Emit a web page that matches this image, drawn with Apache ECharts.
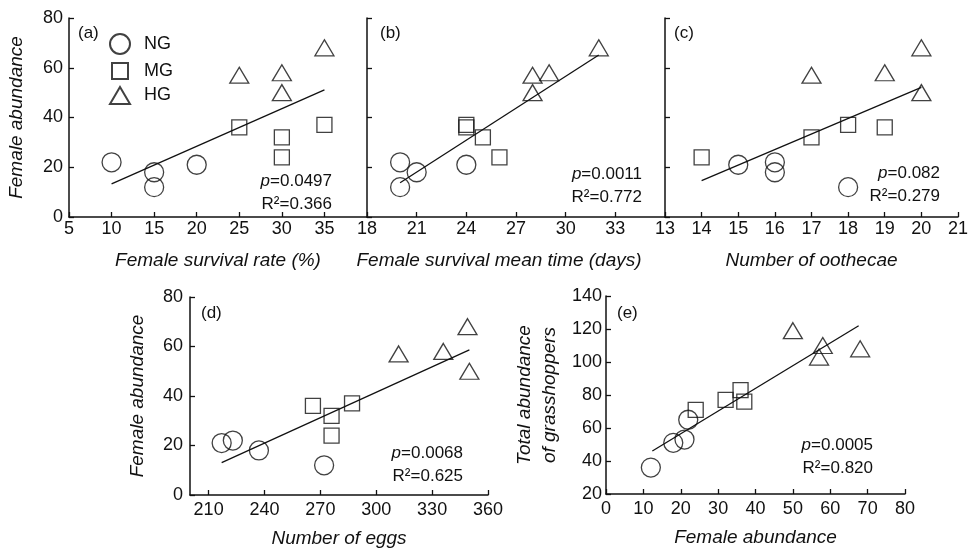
<!DOCTYPE html>
<html>
<head>
<meta charset="utf-8">
<script src="https://cdn.jsdelivr.net/npm/echarts@6/dist/echarts.min.js"></script>
<style>
  html, body { margin: 0; padding: 0; background: #fff; }
  #chart { width: 971px; height: 551px; }
</style>
</head>
<body>
<div id="chart"></div>
<script>
// (a) female survival rate (%) vs female abundance
const rateNG = [[10, 22], [15, 18], [15, 12], [20, 21]]
const rateMG = [[25, 36], [30, 32], [30, 24], [35, 37]]
const rateHG = [[25, 57], [30, 58], [30, 50], [35, 68]]
const rateFit = [[10, 13.3], [35, 51.1]]

// (b) female survival mean time (days)
const timeNG = [[20, 22], [21, 18], [20, 12], [24, 21]]
const timeMG = [[24, 36], [24, 37], [25, 32], [26, 24]]
const timeHG = [[28, 57], [29, 58], [28, 50], [32, 68]]
const timeFit = [[20, 13.8], [32, 65.1]]

// (c) number of oothecae
const oothNG = [[15, 21], [16, 22], [16, 18], [18, 12]]
const oothMG = [[14, 24], [17, 32], [18, 37], [19, 36]]
const oothHG = [[17, 57], [19, 58], [20, 68], [20, 50]]
const oothFit = [[14, 14.6], [20, 52.1]]

// (d) number of eggs
const eggNG = [[217, 21], [223, 22], [237, 18], [272, 12]]
const eggMG = [[266, 36], [276, 32], [276, 24], [287, 37]]
const eggHG = [[312, 57], [336, 58], [349, 68], [350, 50]]
const eggFit = [[217, 13.1], [350, 58.6]]

// (e) female abundance vs total abundance of grasshoppers
const totNG = [[12, 36], [18, 51], [21, 53], [22, 65]]
const totMG = [[24, 71], [32, 77], [36, 83], [37, 76]]
const totHG = [[50, 119], [57, 103], [58, 110], [68, 108]]
const totFit = [[12.4, 46.1], [67.6, 122]]

const eggTicks = [210, 240, 270, 300, 330, 360]

const statsP = ['0.0497', '0.0011', '0.082', '0.0068', '0.0005']
const statsR2 = ['0.366', '0.772', '0.279', '0.625', '0.820']
const panelTags = ['(a)', '(b)', '(c)', '(d)', '(e)']

const FONT = '"Liberation Sans", Arial, sans-serif'
const INK = '#111'

const chart = echarts.init(document.getElementById('chart'))

const grids = [
  { left: 69, top: 18, width: 298, height: 199 },
  { left: 367, top: 18, width: 298, height: 199 },
  { left: 665, top: 18, width: 297, height: 199 },
  { left: 190, top: 297, width: 298, height: 198 },
  { left: 606, top: 296, width: 299, height: 198 }
]

function axisBase(extra) {
  return Object.assign({
    type: 'value',
    splitLine: { show: false },
    axisLine: { show: true, onZero: false, lineStyle: { color: INK, width: 1.5 } },
    axisTick: { show: true, inside: true, length: 5, lineStyle: { color: INK, width: 1.3 } },
    axisLabel: { color: INK, fontSize: 18, fontFamily: FONT },
    nameLocation: 'middle',
    nameTextStyle: { color: INK, fontSize: 19, fontFamily: FONT, fontStyle: 'italic' }
  }, extra)
}

function withLabel(label) {
  return Object.assign({ color: INK, fontSize: 18, fontFamily: FONT }, label)
}

const xAxis = [
  axisBase({ gridIndex: 0, min: 5, max: 40, interval: 5, name: 'Female survival rate (%)', nameGap: 34,
    axisLabel: withLabel({ margin: 3, showMaxLabel: false }) }),
  axisBase({ gridIndex: 1, min: 18, max: 36, interval: 3, name: 'Female survival mean time (days)', nameGap: 34,
    nameTextStyle: { color: INK, fontSize: 19, fontFamily: FONT, fontStyle: 'italic', padding: [0, 34, 0, 0] },
    axisLabel: withLabel({ margin: 3, showMaxLabel: false }) }),
  axisBase({ gridIndex: 2, min: 13, max: 21, interval: 1, name: 'Number of oothecae', nameGap: 34,
    axisLabel: withLabel({ margin: 3 }) }),
  axisBase({ gridIndex: 3, min: 200, max: 360, name: 'Number of eggs', nameGap: 34,
    axisTick: { show: true, inside: true, length: 5, customValues: eggTicks, lineStyle: { color: INK, width: 1.3 } },
    axisLabel: withLabel({ margin: 6, customValues: eggTicks }) }),
  axisBase({ gridIndex: 4, min: 0, max: 80, interval: 10, name: 'Female abundance', nameGap: 34,
    axisLabel: withLabel({ margin: 6 }) })
]

const yAxis = [
  axisBase({ gridIndex: 0, min: 0, max: 80, interval: 20, name: 'Female abundance', nameGap: 43,
    axisLabel: withLabel({ margin: 6 }) }),
  axisBase({ gridIndex: 1, min: 0, max: 80, interval: 20, axisLabel: { show: false } }),
  axisBase({ gridIndex: 2, min: 0, max: 80, interval: 20, axisLabel: { show: false } }),
  axisBase({ gridIndex: 3, min: 0, max: 80, interval: 20, name: 'Female abundance', nameGap: 43,
    axisLabel: withLabel({ margin: 7 }) }),
  axisBase({ gridIndex: 4, min: 20, max: 140, interval: 20, name: 'Total abundance\nof grasshoppers', nameGap: 44,
    nameTextStyle: { color: INK, fontSize: 19, fontFamily: FONT, fontStyle: 'italic', lineHeight: 25 },
    axisLabel: withLabel({ margin: 4 }) })
]

const panels = [
  [rateNG, rateMG, rateHG, rateFit],
  [timeNG, timeMG, timeHG, timeFit],
  [oothNG, oothMG, oothHG, oothFit],
  [eggNG, eggMG, eggHG, eggFit],
  [totNG, totMG, totHG, totFit]
]

const markerStyle = { color: 'rgba(255,255,255,0)', borderColor: INK, borderWidth: 1.3 }
const groups = [
  { name: 'NG', symbol: 'circle', size: 19 },
  { name: 'MG', symbol: 'rect', size: 15 },
  { name: 'HG', symbol: 'triangle', size: [19, 16] }
]

const series = []
panels.forEach((p, i) => {
  series.push({
    type: 'line', xAxisIndex: i, yAxisIndex: i, data: p[3], symbol: 'none',
    lineStyle: { color: INK, width: 1.3 }, silent: true, z: 1
  })
  groups.forEach((g, k) => {
    series.push({
      name: g.name, type: 'scatter', xAxisIndex: i, yAxisIndex: i, data: p[k],
      symbol: g.symbol, symbolSize: g.size, itemStyle: markerStyle, z: 2
    })
  })
})

const legendText = { color: INK, fontSize: 18, fontFamily: FONT }
const legend = [
  { data: ['NG'], left: 109, top: 33, itemWidth: 20, itemHeight: 20, padding: 0,
    textStyle: Object.assign({ padding: [0, 0, 0, 9] }, legendText) },
  { data: ['MG'], left: 111, top: 62, itemWidth: 16, itemHeight: 16, padding: 0,
    textStyle: Object.assign({ padding: [0, 0, 0, 11] }, legendText) },
  { data: ['HG'], left: 109, top: 86, itemWidth: 20, itemHeight: 17, padding: 0,
    textStyle: Object.assign({ padding: [0, 0, 0, 9] }, legendText) }
]

// where the p / R2 notes and the panel tags sit
const statPos = [[332, 181], [642, 174], [940, 173], [463, 453], [873, 445]]
const tagPos = [[78, 33], [380, 33], [674, 33], [201, 313], [617, 313]]

const rich = {
  i: { fontStyle: 'italic', fontSize: 17, fontFamily: FONT, fill: INK }
}

const graphic = []
statPos.forEach((pos, i) => {
  graphic.push({
    type: 'text', x: pos[0], y: pos[1],
    style: { text: '{i|p}=' + statsP[i], rich: rich, fill: INK, font: '17px ' + FONT, align: 'right', verticalAlign: 'middle' }
  })
  graphic.push({
    type: 'text', x: pos[0], y: pos[1] + 23,
    style: { text: 'R\u00b2=' + statsR2[i], fill: INK, font: '17px ' + FONT, align: 'right', verticalAlign: 'middle' }
  })
})
tagPos.forEach((pos, i) => {
  graphic.push({
    type: 'text', x: pos[0], y: pos[1],
    style: { text: panelTags[i], fill: INK, font: '17px ' + FONT, align: 'left', verticalAlign: 'middle' }
  })
})

chart.setOption({
  animation: false,
  backgroundColor: '#fff',
  grid: grids,
  xAxis: xAxis,
  yAxis: yAxis,
  legend: legend,
  graphic: graphic,
  series: series
})
</script>
</body>
</html>
